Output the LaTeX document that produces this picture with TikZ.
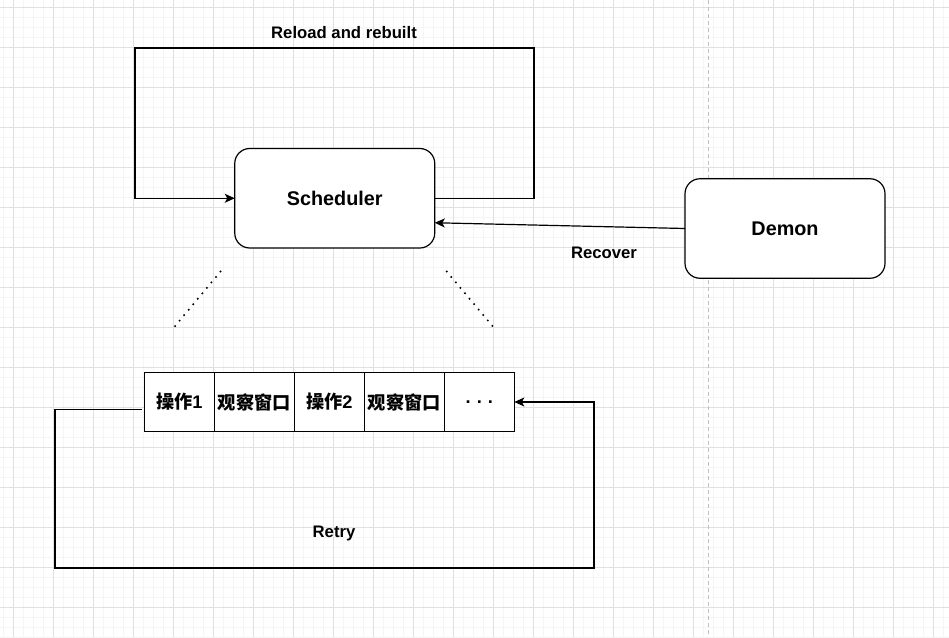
\documentclass[tikz,border=0pt]{standalone}
\usepackage{fontspec}
\setmainfont{Liberation Sans}
\newfontfamily\cjk{Noto Sans CJK SC}
\usetikzlibrary{arrows.meta}
\definecolor{gridminor}{HTML}{F5F5F5}
\definecolor{gridmajor}{HTML}{E0E0E0}
\definecolor{sepline}{HTML}{C0C0C0}
\tikzset{
  box/.style={draw=black, line width=1.2pt, rounded corners=15pt, minimum width=200pt, minimum height=99.5pt, inner sep=0pt, outer sep=0pt, font=\fontsize{19.8}{22}\selectfont\bfseries},
  cell/.style={draw=black, line width=1pt, minimum height=59.5pt, inner sep=0pt, outer sep=0pt, font=\fontsize{18.2}{20}\selectfont\bfseries},
  conn/.style={draw=black, line width=1.2pt},
  arr/.style={conn, -{Stealth[length=10pt,width=9pt,inset=2.5pt]}},
  lbl/.style={font=\fontsize{16.7}{19}\selectfont\bfseries, inner sep=0pt},
  dotline/.style={draw=black, line width=2.2pt, line cap=round, dash pattern=on 0pt off 7.1pt},
}
\newcommand{\cj}[1]{{\cjk\bfseries #1}}
\begin{document}
\begin{tikzpicture}[x=1pt,y=-1pt]
\useasboundingbox (0,0) rectangle (949,637);
\fill[white] (0,0) rectangle (949,637);
% grid
\foreach \x in {3,13,...,949} \draw[gridminor, line width=0.7pt] (\x,0) -- (\x,637);
\foreach \y in {7,17,...,637} \draw[gridminor, line width=0.7pt] (0,\y) -- (949,\y);
\foreach \x in {13,53,...,949} \draw[gridmajor, line width=0.9pt] (\x,0) -- (\x,637);
\foreach \y in {7,47,...,637} \draw[gridmajor, line width=0.9pt] (0,\y) -- (949,\y);
% separator
\draw[sepline, line width=1pt, dash pattern=on 4pt off 3pt] (708,0) -- (708,637);
% boxes
\node[box, fill=white] (sched) at (334.75,198.25) {Scheduler};
\node[box, fill=white] (demon) at (785,228.5) {Demon};
% cells
\node[cell, fill=white, minimum width=70pt] (c1) at (179.3,402) {\cj{操作}1};
\node[cell, fill=white, minimum width=80pt, anchor=west] (c2) at (c1.east) {\cj{观察窗口}};
\node[cell, fill=white, minimum width=70pt, anchor=west] (c3) at (c2.east) {\cj{操作}2};
\node[cell, fill=white, minimum width=80pt, anchor=west] (c4) at (c3.east) {\cj{观察窗口}};
\node[cell, fill=white, minimum width=70pt, anchor=west] (c5) at (c4.east) {.\,\,.\,\,.};
% reload loop
\coordinate (r1) at (534,48);
\coordinate (r2) at (135,48);
\draw[arr] (sched.east) -| (r1) -- (r2) |- (sched.west);
\node[lbl] (lreload) at (344,33) {Reload and rebuilt};
% recover
\draw[arr] (demon.west) -- ([yshift=-24.5pt]sched.east);
\node[lbl] (lrecover) at (604,253) {Recover};
% dotted
\coordinate (d1a) at (220.5,271.5);
\coordinate (d1b) at (174.3,327);
\coordinate (d2a) at (446.7,271.5);
\coordinate (d2b) at (493.3,327);
\draw[dotline] (d1a) -- (d1b);
\draw[dotline] (d2a) -- (d2b);
% retry
\coordinate (rs) at (141.5,409.5);
\coordinate (q1) at (55,409.5);
\coordinate (q2) at (55,568);
\coordinate (q3) at (594,568);
\draw[arr] (rs) -- (q1) -- (q2) -- (q3) |- (c5.east);
\node[lbl] (lretry) at (334,533) {Retry};
\end{tikzpicture}
\end{document}
